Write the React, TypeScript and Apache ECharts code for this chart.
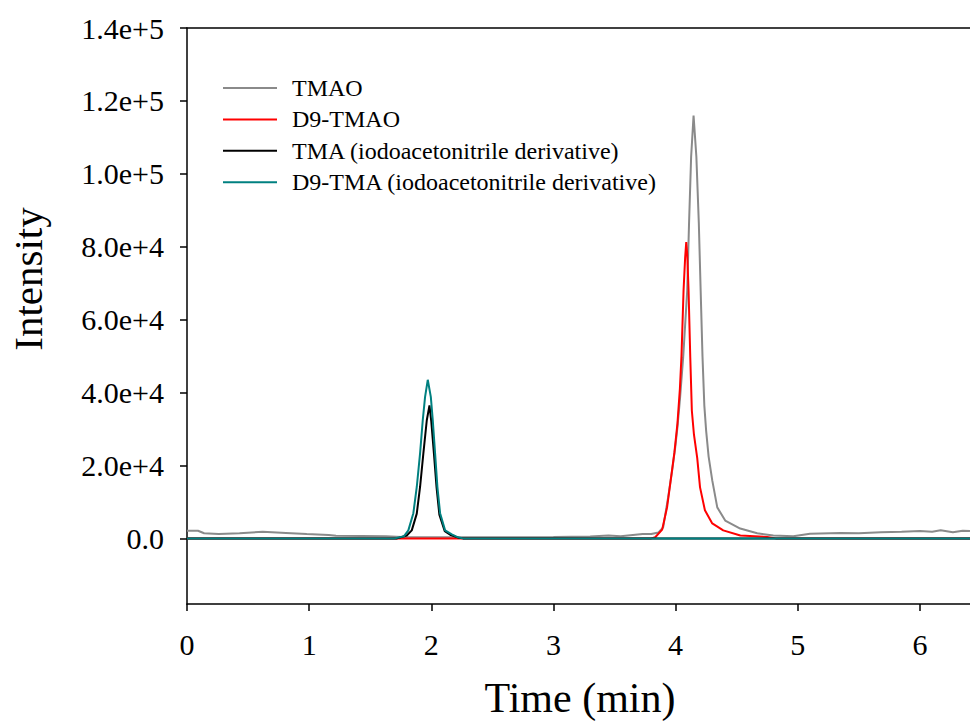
import React, { useEffect, useRef } from "react";
import * as echarts from "echarts";

const seriesNames = [
  "TMAO",
  "D9-TMAO",
  "TMA (iodoacetonitrile derivative)",
  "D9-TMA (iodoacetonitrile derivative)",
];
const seriesColors = ["#8a8a8a", "#ff0000", "#000000", "#008080"];

// [time (min), intensity]
const tmao: [number, number][] = [
  [0, 2100], [0.09, 2100], [0.14, 1400], [0.26, 1200], [0.43, 1400], [0.62, 1800],
  [0.81, 1500], [0.98, 1200], [1.16, 900], [1.22, 700], [1.63, 600], [1.8, 300],
  [2.2, 300], [2.6, 300], [3.0, 400], [3.3, 500], [3.45, 800], [3.55, 600],
  [3.73, 1200], [3.8, 1200], [3.86, 1600], [3.898, 3000], [3.939, 11300],
  [3.972, 18700], [3.997, 25000], [4.015, 30500], [4.035, 38000], [4.062, 49700],
  [4.095, 68000], [4.11, 86500], [4.127, 104600], [4.147, 116000], [4.17, 104600],
  [4.19, 86500], [4.205, 68000], [4.22, 50000], [4.235, 36500], [4.25, 29500],
  [4.27, 22500], [4.3, 15900], [4.341, 8500], [4.406, 4900], [4.529, 2700],
  [4.668, 1400], [4.8, 800], [4.963, 600], [5.1, 1300], [5.35, 1500], [5.5, 1400],
  [5.68, 1700], [5.85, 1800], [6.0, 2000], [6.1, 1800], [6.17, 2200], [6.27, 1700],
  [6.35, 2100], [6.41, 2000],
];
const d9Tmao: [number, number][] = [
  [0, 0], [3.8, 0], [3.833, 300], [3.89, 2400], [3.93, 8500], [3.958, 15500],
  [3.99, 23500], [4.015, 31500], [4.035, 41000], [4.048, 50000], [4.065, 68000],
  [4.078, 77000], [4.087, 81300], [4.095, 78000], [4.106, 68000], [4.12, 49700],
  [4.133, 35000], [4.15, 28500], [4.177, 22000], [4.2, 14000], [4.24, 7700],
  [4.3, 4100], [4.39, 2200], [4.53, 800], [4.75, 400], [4.82, 0], [6.41, 0],
];
const tma: [number, number][] = [
  [0, 0], [1.72, 0], [1.799, 800], [1.84, 2200], [1.881, 6800], [1.908, 14100],
  [1.935, 23300], [1.963, 32400], [1.985, 36500], [2.0, 32000], [2.022, 23000],
  [2.043, 14000], [2.066, 6500], [2.11, 2000], [2.16, 900], [2.22, 200], [2.26, 0],
  [6.41, 0],
];
const d9Tma: [number, number][] = [
  [0, 0], [1.7, 0], [1.777, 600], [1.812, 2200], [1.853, 6900], [1.881, 14100],
  [1.908, 23300], [1.93, 32400], [1.949, 38800], [1.971, 43500], [1.996, 38800],
  [2.012, 32400], [2.031, 23300], [2.05, 14100], [2.072, 6900], [2.113, 2200],
  [2.168, 1100], [2.219, 300], [2.26, 0], [6.41, 0],
];

const xTickValues = [0, 1, 2, 3, 4, 5, 6];
const yTickValues = [0, 20000, 40000, 60000, 80000, 100000, 120000, 140000];
const yTickLabels = ["0.0", "2.0e+4", "4.0e+4", "6.0e+4", "8.0e+4", "1.0e+5", "1.2e+5", "1.4e+5"];

const FONT = "'Liberation Serif', 'Times New Roman', serif";

export default function App() {
  const ref = useRef<HTMLDivElement>(null);
  useEffect(() => {
    if (!ref.current) return;
    const chart = echarts.init(ref.current, undefined, { renderer: "svg" });
    const allData = [tmao, d9Tmao, tma, d9Tma];
    chart.setOption({
      animation: false,
      backgroundColor: "#ffffff",
      grid: { left: 187, top: 28, right: 0, bottom: 118, containLabel: false },
      legend: {
        orient: "vertical",
        left: 218,
        top: 71,
        icon: "rect",
        itemWidth: 54,
        itemHeight: 2,
        itemGap: 7.4,
        selectedMode: false,
        data: seriesNames,
        textStyle: {
          fontFamily: FONT,
          fontSize: 24,
          lineHeight: 24,
          color: "#000",
          padding: [0, 0, 0, 10],
        },
      },
      xAxis: [
        {
          type: "value",
          min: 0,
          max: 6.41,
          axisLine: { show: true, onZero: false, lineStyle: { color: "#000", width: 1.5 } },
          axisTick: { show: true, length: 7, customValues: xTickValues, lineStyle: { color: "#000", width: 1.5 } },
          axisLabel: {
            customValues: xTickValues,
            margin: 25,
            fontFamily: FONT,
            fontSize: 30,
            color: "#000",
          },
          splitLine: { show: false },
        },
        {
          type: "value",
          position: "top",
          min: 0,
          max: 6.41,
          axisLine: { show: true, onZero: false, lineStyle: { color: "#000", width: 1.5 } },
          axisTick: { show: false },
          axisLabel: { show: false },
          splitLine: { show: false },
        },
      ],
      yAxis: {
        type: "value",
        min: -18000,
        max: 140000,
        axisLine: { show: true, onZero: false, lineStyle: { color: "#000", width: 1.5 } },
        axisTick: { show: true, length: 7, customValues: yTickValues, lineStyle: { color: "#000", width: 1.5 } },
        axisLabel: {
          customValues: yTickValues,
          margin: 23,
          fontFamily: FONT,
          fontSize: 30,
          color: "#000",
          formatter: (v: number) => {
            const i = yTickValues.indexOf(v);
            return i >= 0 ? yTickLabels[i] : "";
          },
        },
        splitLine: { show: false },
      },
      graphic: [
        {
          type: "text",
          x: 28,
          y: 279,
          rotation: Math.PI / 2,
          style: {
            text: "Intensity",
            font: `41px ${FONT}`,
            fill: "#000",
            align: "center",
            verticalAlign: "middle",
            textAlign: "center",
            textVerticalAlign: "middle",
          },
        },
        {
          type: "text",
          x: 580,
          y: 698,
          style: {
            text: "Time (min)",
            font: `42px ${FONT}`,
            fill: "#000",
            align: "center",
            verticalAlign: "middle",
            textAlign: "center",
            textVerticalAlign: "middle",
          },
        },
      ],
      series: seriesNames.map((name, i) => ({
        name,
        type: "line",
        data: allData[i],
        xAxisIndex: 0,
        showSymbol: false,
        symbol: "none",
        color: seriesColors[i],
        lineStyle: { color: seriesColors[i], width: 2 },
        smooth: false,
      })),
    });
    return () => chart.dispose();
  }, []);
  return (
    <div
      ref={ref}
      style={{ position: "fixed", left: 0, top: 0, width: 970, height: 722, background: "#fff" }}
    />
  );
}
